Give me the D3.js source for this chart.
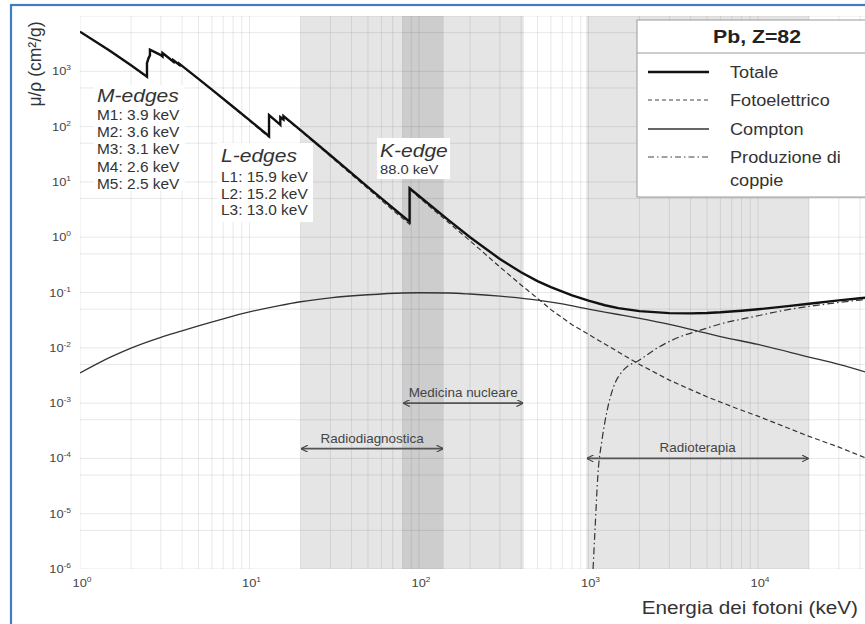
<!DOCTYPE html>
<html><head><meta charset="utf-8">
<script src="https://cdn.jsdelivr.net/npm/d3@7"></script>
<style>
body{margin:0;background:#fff;}
svg{display:block;font-family:"Liberation Sans",Arial,Helvetica,sans-serif;}
</style>
</head><body>
<svg id="c" width="865" height="624"></svg>
<script>
// ---------------- DATA ----------------
const xTicks = [1, 10, 100, 1000, 10000];
const yTicks = [1e-6, 1e-5, 1e-4, 1e-3, 1e-2, 1e-1, 1, 10, 100, 1000];

// Totale
const totalE  = [1, 1.5, 2, 2.484, 2.484, 2.535, 2.586, 2.586, 3, 3.066, 3.066, 3.301, 3.554, 3.554, 3.699, 3.851, 3.851, 4, 5, 6, 8, 10, 13.04, 13.04, 15, 15.2, 15.2, 15.53, 15.86, 15.86, 20, 30, 40, 50, 60, 80, 88.0, 88.0, 100, 150, 200, 300, 400, 500, 600, 800, 1000, 1250, 1500, 2000, 3000, 4000, 5000, 6000, 8000, 10000, 15000, 20000, 30000, 40000, 50000];
const totalMu = [5210, 2356, 1285, 800, 1397, 1726, 1944, 2458, 1965, 1857, 2146, 1796, 1496, 1585, 1442, 1311, 1368, 1251, 730, 467, 229, 130.6, 67.0, 162, 111.6, 107.8, 148.5, 141.6, 134.4, 154.8, 86.4, 30.3, 14.4, 8.04, 5.02, 2.42, 1.91, 7.68, 5.55, 2.01, 0.999, 0.403, 0.232, 0.161, 0.125, 0.0887, 0.0710, 0.0588, 0.0522, 0.0461, 0.0423, 0.0420, 0.0427, 0.0439, 0.0468, 0.0497, 0.0567, 0.0627, 0.0720, 0.0789, 0.0841];

// Fotoelettrico
const photoE  = [1, 1.5, 2, 2.484, 2.484, 2.586, 2.586, 3, 3.066, 3.066, 3.554, 3.554, 3.851, 3.851, 4, 5, 6, 8, 10, 13.04, 13.04, 15, 15.2, 15.2, 15.86, 15.86, 20, 30, 40, 50, 60, 80, 88.0, 88.0, 100, 150, 200, 300, 400, 500, 600, 800, 1000, 1500, 2000, 3000, 5000, 7500, 10000, 20000, 30000, 45000];
const photoMu = [5197, 2344, 1274, 791, 1387, 1933, 2448, 1955, 1847, 2137, 1487, 1576, 1302, 1360, 1243, 723, 461, 224, 127, 64.4, 159.6, 109.4, 105.7, 146, 131.5, 151.4, 84.4, 29.1, 13.6, 7.53, 4.63, 2.19, 1.72, 7.49, 5.23, 1.83, 0.86, 0.29, 0.137, 0.0786, 0.049, 0.0262, 0.0175, 0.0084, 0.0050, 0.0026, 0.0013, 0.00080, 0.00058, 0.00025, 0.00016, 0.000097];

// Compton
const compE  = [1, 1.5, 2, 3, 4, 5, 7, 10, 15, 20, 30, 50, 80, 100, 150, 200, 300, 500, 700, 1000, 1500, 2000, 3000, 4500, 6000, 10000, 20000, 30000, 45000];
const compMu = [0.0035, 0.0067, 0.0099, 0.0155, 0.0203, 0.0250, 0.0335, 0.0445, 0.058, 0.068, 0.080, 0.091, 0.098, 0.099, 0.098, 0.094, 0.086, 0.073, 0.062, 0.050, 0.040, 0.034, 0.0265, 0.0197, 0.0160, 0.0115, 0.0068, 0.0050, 0.0035];

// Produzione di coppie
const pairE  = [1064, 1092, 1138, 1200, 1290, 1400, 1600, 2000, 2500, 3500, 4500, 6000, 8000, 10000, 15000, 20000, 30000, 40000, 50000];
const pairMu = [1.0e-6, 5.0e-6, 5.4e-5, 2.1e-4, 7.5e-4, 1.9e-3, 3.9e-3, 6.0e-3, 9.6e-3, 1.6e-2, 2.05e-2, 2.7e-2, 3.3e-2, 3.8e-2, 4.9e-2, 5.6e-2, 6.6e-2, 7.3e-2, 7.8e-2];

// Ambiti applicativi
const bandNames = ["Radiodiagnostica", "Medicina nucleare", "Radioterapia"];
const bandStart = [20, 80, 970];
const bandEnd   = [140, 415, 20000];
const bandLevel = [1.5e-4, 1e-3, 1e-4];

const legendTitle = "Pb, Z=82";
const seriesNames = ["Totale", "Fotoelettrico", "Compton", "Produzione di|coppie"];

const mEdges = ["M1: 3.9 keV", "M2: 3.6 keV", "M3: 3.1 keV", "M4: 2.6 keV", "M5: 2.5 keV"];
const lEdges = ["L1: 15.9 keV", "L2: 15.2 keV", "L3: 13.0 keV"];
const kEdges = ["88.0 keV"];

// ---------------- CHART ----------------
const svg = d3.select("#c");
const x = d3.scaleLog().domain([1, 1e5]).range([80, 927.5]);
const y = d3.scaleLog().domain([1e-6, 1e4]).range([569, 16]);
const SX = 1.12;

function txt(g, px, py, s, o = {}) {
  const t = g.append("text")
    .attr("transform", `translate(${px},${py}) scale(${o.sx || SX},1)`)
    .attr("font-size", o.size || 12)
    .attr("fill", o.fill || "#333")
    .attr("text-anchor", o.anchor || "start");
  if (o.weight) t.attr("font-weight", o.weight);
  if (o.style) t.attr("font-style", o.style);
  t.text(s);
  return t;
}

svg.append("defs").append("clipPath").attr("id", "clip")
  .append("rect").attr("x", 80).attr("y", 16).attr("width", 847.5).attr("height", 553);

const plot = svg.append("g").attr("clip-path", "url(#clip)");

// bands
plot.selectAll("rect.band").data(bandNames).join("rect")
  .attr("class", "band")
  .attr("x", (d, i) => x(bandStart[i]))
  .attr("width", (d, i) => x(bandEnd[i]) - x(bandStart[i]))
  .attr("y", 16).attr("height", 553)
  .attr("fill", "rgba(0,0,0,0.1)");

// grid
const vGrid = [];
for (let e = 0; e < 5; e++) for (let m = 1; m < 10; m++) vGrid.push(m * Math.pow(10, e));
vGrid.push(1e5);
const hGrid = [];
for (let e = -6; e < 4; e++) { hGrid.push(Math.pow(10, e)); hGrid.push(5 * Math.pow(10, e)); }
hGrid.push(1e4);
plot.selectAll("line.vg").data(vGrid).join("line").attr("class", "vg")
  .attr("x1", d => x(d)).attr("x2", d => x(d)).attr("y1", 16).attr("y2", 569)
  .attr("stroke", "rgba(0,0,0,0.09)").attr("stroke-width", 1);
plot.selectAll("line.hg").data(hGrid).join("line").attr("class", "hg")
  .attr("y1", d => y(d)).attr("y2", d => y(d)).attr("x1", 80).attr("x2", 930)
  .attr("stroke", "rgba(0,0,0,0.09)").attr("stroke-width", 1);

// curves
const lin = d3.line().x(d => x(d[0])).y(d => y(d[1]));
const smooth = d3.line().x(d => x(d[0])).y(d => y(d[1])).curve(d3.curveMonotoneX);
const zip = (a, b) => a.map((v, i) => [v, b[i]]);

plot.append("path").attr("d", lin(zip(photoE, photoMu)))
  .attr("fill", "none").attr("stroke", "#333").attr("stroke-width", 1.2).attr("stroke-dasharray", "5,3");
plot.append("path").attr("d", smooth(zip(compE, compMu)))
  .attr("fill", "none").attr("stroke", "#333").attr("stroke-width", 1.3);
plot.append("path").attr("d", smooth(zip(pairE, pairMu)))
  .attr("fill", "none").attr("stroke", "#333").attr("stroke-width", 1.2).attr("stroke-dasharray", "7,3,1.5,3");
plot.append("path").attr("d", lin(zip(totalE, totalMu)))
  .attr("fill", "none").attr("stroke", "#111").attr("stroke-width", 2.4).attr("stroke-linejoin", "miter");

// arrows
const defs = svg.select("defs");
["s", "e"].forEach(k => {
  defs.append("marker").attr("id", "ar" + k).attr("viewBox", "0 0 10 10")
    .attr("refX", k === "e" ? 9 : 1).attr("refY", 5).attr("markerWidth", 7).attr("markerHeight", 7)
    .attr("markerUnits", "userSpaceOnUse").attr("orient", "auto")
    .append("path").attr("d", k === "e" ? "M0,0 L10,5 L0,10" : "M10,0 L0,5 L10,10")
    .attr("fill", "none").attr("stroke", "#444").attr("stroke-width", 1.6);
});
const ann = svg.append("g");
bandNames.forEach((n, i) => {
  const x1 = x(bandStart[i]), x2 = x(bandEnd[i]), yy = y(bandLevel[i]);
  ann.append("line").attr("x1", x1 + 1).attr("x2", x2 - 1).attr("y1", yy).attr("y2", yy)
    .attr("stroke", "#555").attr("stroke-width", 1.6)
    .attr("marker-start", "url(#ars)").attr("marker-end", "url(#are)");
  txt(ann, (x1 + x2) / 2, yy - 6, n, { size: 12, anchor: "middle", fill: "#444" });
});

// axis tick labels
const axg = svg.append("g");
function powLabel(g, px, py, v, anchor) {
  const ex = Math.round(Math.log10(v));
  const t = g.append("text")
    .attr("transform", `translate(${px},${py}) scale(${SX},1)`)
    .attr("font-size", 11.5).attr("fill", "#444").attr("text-anchor", anchor);
  t.append("tspan").text("10");
  t.append("tspan").attr("font-size", 7.5).attr("dy", -5).text(ex);
}
yTicks.forEach(v => powLabel(axg, 71, y(v) + 4, v, "end"));
xTicks.forEach(v => powLabel(axg, x(v) + 2, 587, v, "middle"));

// axis titles
svg.append("text").attr("transform", "translate(41,64) rotate(-90)")
  .attr("font-size", 17.5).attr("fill", "#333").attr("text-anchor", "middle").text("μ/ρ  (cm²/g)");
txt(svg, 858, 614, "Energia dei fotoni (keV)", { size: 18.5, anchor: "end", fill: "#333" });

// edge annotation boxes
function box(x0, y0, w, h) {
  svg.append("rect").attr("x", x0).attr("y", y0).attr("width", w).attr("height", h).attr("fill", "#fff");
}
box(94, 85, 91, 106);
txt(svg, 97, 102, "M-edges", { size: 18.8, style: "italic", fill: "#333" });
mEdges.forEach((s, i) => txt(svg, 97, 120 + i * 17.2, s, { size: 13.8 }));

box(217, 143, 96, 79);
txt(svg, 221, 162, "L-edges", { size: 18.8, style: "italic", fill: "#333" });
lEdges.forEach((s, i) => txt(svg, 221, 182 + i * 16.5, s, { size: 13.8 }));

box(377, 138, 73, 41);
txt(svg, 380, 157, "K-edge", { size: 18.8, style: "italic", fill: "#333" });
kEdges.forEach((s, i) => txt(svg, 380, 174, s, { size: 13.2 }));

// legend
const lg = svg.append("g");
lg.append("rect").attr("x", 638).attr("y", 21).attr("width", 260).attr("height", 177).attr("fill", "#d8d8d8");
lg.append("rect").attr("x", 637).attr("y", 20).attr("width", 260).attr("height", 177)
  .attr("fill", "#fff").attr("stroke", "#9a9a9a").attr("stroke-width", 1);
lg.append("line").attr("x1", 637).attr("x2", 900).attr("y1", 53).attr("y2", 53).attr("stroke", "#9a9a9a");
txt(lg, 757, 43, legendTitle, { size: 19, anchor: "middle", weight: "bold", fill: "#222" });
const lgStyle = [
  { w: 2.5, dash: null, c: "#111" },
  { w: 1.1, dash: "4,3", c: "#444" },
  { w: 1.3, dash: null, c: "#333" },
  { w: 1.1, dash: "6,3,1.5,3", c: "#444" }
];
const lgY = [72, 100, 129, 157];
seriesNames.forEach((n, i) => {
  lg.append("line").attr("x1", 648).attr("x2", 709).attr("y1", lgY[i]).attr("y2", lgY[i])
    .attr("stroke", lgStyle[i].c).attr("stroke-width", lgStyle[i].w)
    .attr("stroke-dasharray", lgStyle[i].dash);
  n.split("|").forEach((p, j) => txt(lg, 730, lgY[i] + 6 + j * 23, p, { size: 16.2, fill: "#333" }));
});

// frame
svg.append("rect").attr("x", 11).attr("y", 5).attr("width", 900).attr("height", 700)
  .attr("fill", "none").attr("stroke", "#3f7cc2").attr("stroke-width", 2.2);
</script>
</body></html>
